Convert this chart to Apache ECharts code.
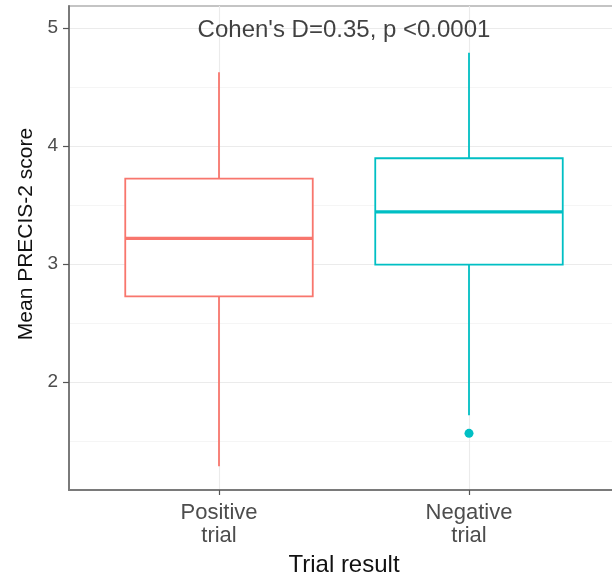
<!DOCTYPE html>
<html>
<head>
<meta charset="utf-8">
<script src="https://cdn.jsdelivr.net/npm/echarts@6/dist/echarts.min.js"></script>
<style>
  html, body { margin: 0; padding: 0; background: #fff; }
  #chart { width: 612px; height: 573px; }
</style>
</head>
<body>
<div id="chart"></div>
<script>
// categories and their positions on the x scale
const categories = ['Positive\ntrial', 'Negative\ntrial'];
const catPos = [1, 2];
// box stats: low whisker, Q1, median, Q3, high whisker
const boxStats = [
  [1.286, 2.725, 3.217, 3.724, 4.625],
  [1.718, 2.994, 3.441, 3.896, 4.79]
];
const outliers = [[2, 1.565]];
const colors = ['#F8766D', '#00BFC4'];
const yTicks = [2, 3, 4, 5];
const yMinor = [1.5, 2.5, 3.5, 4.5];
const note = "Cohen's D=0.35, p <0.0001";
const notePos = [1.5, 5];

const chart = echarts.init(document.getElementById('chart'));

const boxData = boxStats.map((s, i) => [catPos[i]].concat(s));
const boxHalf = 0.375;

function renderBox(params, api) {
  const x = api.value(0);
  const lo = api.value(1), q1 = api.value(2), med = api.value(3), q3 = api.value(4), hi = api.value(5);
  const c = colors[params.dataIndex];
  const pTop = api.coord([x, hi]);
  const pBot = api.coord([x, lo]);
  const tl = api.coord([x - boxHalf, q3]);
  const br = api.coord([x + boxHalf, q1]);
  const ml = api.coord([x - boxHalf, med]);
  const mr = api.coord([x + boxHalf, med]);
  return {
    type: 'group',
    children: [
      { type: 'line', shape: { x1: pTop[0], y1: pTop[1], x2: pTop[0], y2: tl[1] }, style: { stroke: c, lineWidth: 1.8 } },
      { type: 'line', shape: { x1: pBot[0], y1: br[1], x2: pBot[0], y2: pBot[1] }, style: { stroke: c, lineWidth: 1.8 } },
      { type: 'rect', shape: { x: tl[0], y: tl[1], width: br[0] - tl[0], height: br[1] - tl[1] }, style: { fill: '#fff', stroke: c, lineWidth: 1.8 } },
      { type: 'line', shape: { x1: ml[0], y1: ml[1], x2: mr[0], y2: mr[1] }, style: { stroke: c, lineWidth: 3.2 } }
    ]
  };
}

const gridStyle = { color: '#ebebeb', width: 1.1, type: 'solid' };
const minorStyle = { color: '#f3f3f3', width: 0.8, type: 'solid' };

const option = {
  animation: false,
  textStyle: { fontFamily: 'Liberation Sans, Arial, sans-serif' },
  grid: {
    left: 69, top: 6, width: 550, bottom: 83,
    outerBoundsMode: 'none', containLabel: false,
    show: true, borderColor: '#8a8a8a', borderWidth: 1.2, backgroundColor: '#fff'
  },
  xAxis: {
    type: 'value', min: 0.4, max: 2.6,
    name: 'Trial result', nameLocation: 'middle', nameGap: 63,
    nameTextStyle: { color: '#111', fontSize: 24 },
    axisLine: { show: true, onZero: false, lineStyle: { color: '#7a7a7a', width: 2 } },
    axisTick: { show: true, customValues: catPos, length: 5, lineStyle: { color: '#555', width: 1.2 } },
    axisLabel: {
      customValues: catPos, color: '#4d4d4d', fontSize: 22, lineHeight: 23, margin: 11,
      formatter: v => categories[catPos.indexOf(v)] || ''
    },
    splitLine: { show: false }
  },
  yAxis: {
    type: 'value', min: 1.085, max: 5.186,
    name: 'Mean PRECIS-2 score', nameLocation: 'middle', nameGap: 31, nameRotate: 90,
    nameTextStyle: { color: '#111', fontSize: 21, padding: [0, 0, 0, 28] },
    axisLine: { show: true, lineStyle: { color: '#7a7a7a', width: 2 } },
    axisTick: { show: true, customValues: yTicks, length: 6, lineStyle: { color: '#555', width: 1.2 } },
    axisLabel: { customValues: yTicks, color: '#4d4d4d', fontSize: 19, margin: 11 },
    splitLine: { show: false }
  },
  series: [
    {
      type: 'line', data: [], silent: true, z: 0,
      markLine: {
        silent: true, symbol: 'none', label: { show: false }, animation: false, z: 0,
        data: yMinor.map(v => ({ yAxis: v, lineStyle: minorStyle }))
          .concat(yTicks.map(v => ({ yAxis: v, lineStyle: gridStyle })))
          .concat(catPos.map(v => ({ xAxis: v, lineStyle: gridStyle })))
      }
    },
    {
      type: 'custom', renderItem: renderBox, data: boxData, z: 3,
      encode: { x: 0, y: [1, 2, 3, 4, 5] }
    },
    {
      type: 'scatter', data: outliers, symbolSize: 9, z: 4,
      itemStyle: { color: colors[1], opacity: 1 }
    },
    {
      type: 'scatter', data: [notePos], symbolSize: 0, z: 5, silent: true,
      label: {
        show: true, position: 'inside', formatter: note, offset: [0, 2],
        color: '#111', fontSize: 24
      }
    }
  ]
};

chart.setOption(option);
</script>
</body>
</html>
